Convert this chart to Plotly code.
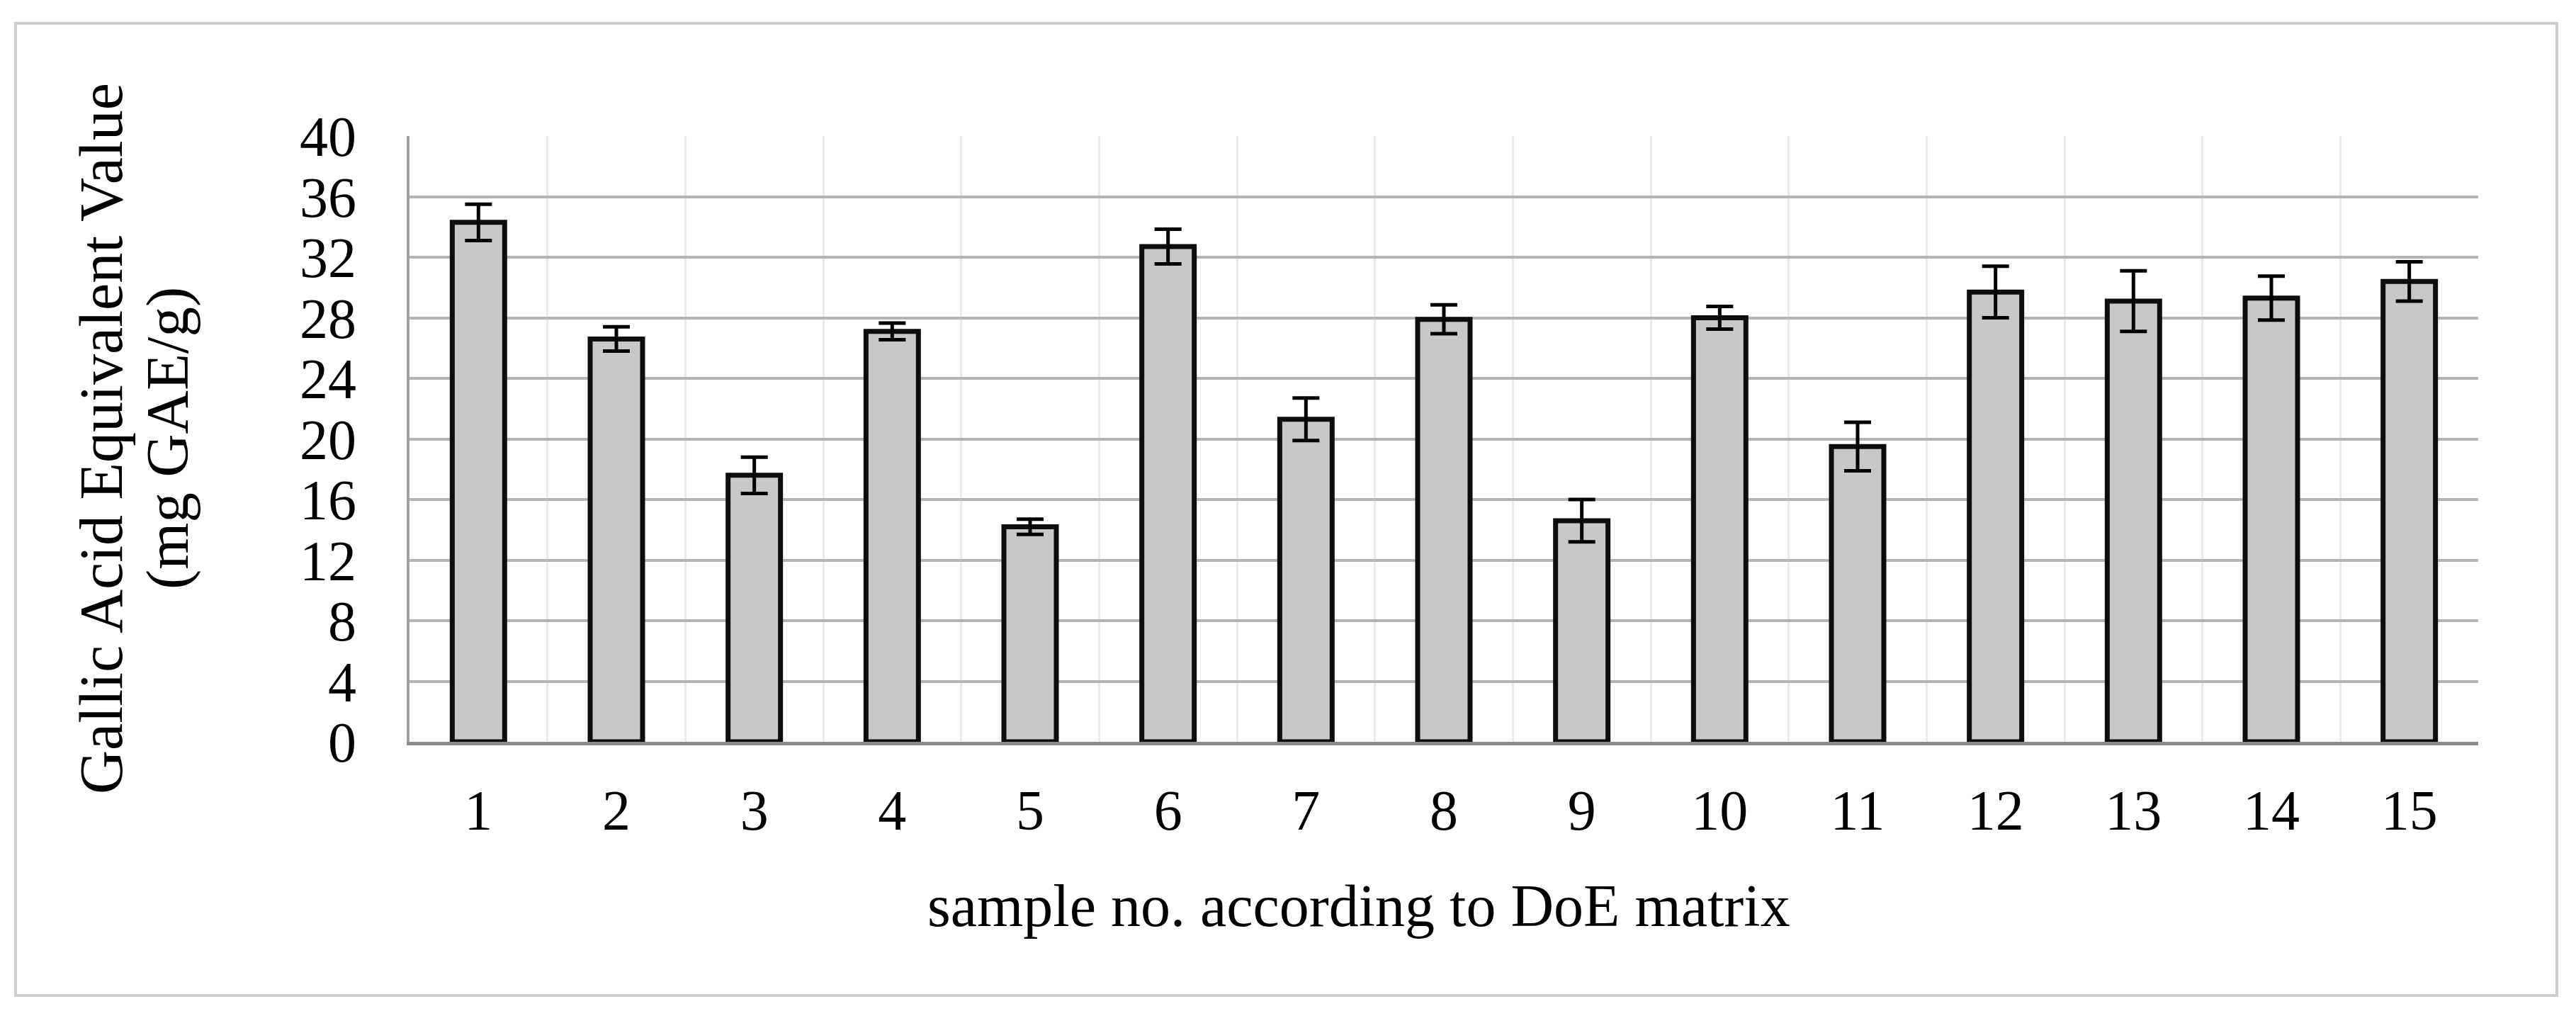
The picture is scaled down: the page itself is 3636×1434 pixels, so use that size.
import plotly.graph_objects as go

# ---- data ----
samples = list(range(1, 16))
tick_labels = [str(s) for s in samples]
gae_mean = [34.3, 26.6, 17.6, 27.1, 14.2, 32.7, 21.3, 27.9, 14.6, 28.0, 19.5, 29.7, 29.1, 29.3, 30.4]
gae_err = [1.2, 0.8, 1.2, 0.55, 0.5, 1.15, 1.4, 0.95, 1.4, 0.75, 1.6, 1.7, 2.0, 1.45, 1.3]
y_ticks = [0, 4, 8, 12, 16, 20, 24, 28, 32, 36, 40]

x_title = "sample no. according to DoE matrix"
y_title_1 = "Gallic Acid Equivalent Value"
y_title_2 = "(mg GAE/g)"

# ---- geometry (pixels) ----
W, H = 3636, 1434
PL, PR, PT, PB = 578, 3498, 192, 1047
pw, ph = PR - PL, PB - PT

def px(x):
    return (x - PL) / pw

def py(y):
    return (PB - y) / ph

FONT = "Liberation Serif, Times New Roman, serif"

boundaries = [s + 0.5 for s in samples]

fig = go.Figure()
fig.add_trace(go.Bar(
    x=samples,
    y=gae_mean,
    width=0.38,
    marker=dict(color="#c8c8c8", line=dict(color="#0d0d0d", width=7)),
    error_y=dict(type="data", array=gae_err, visible=True,
                 color="#000000", thickness=5, width=19),
))

fig.update_layout(
    width=W, height=H, autosize=False,
    margin=dict(l=PL, r=W - PR, t=PT, b=H - PB, pad=0),
    paper_bgcolor="white", plot_bgcolor="white",
    showlegend=False,
    font=dict(family=FONT, color="#000000", size=80),
)

fig.update_xaxes(
    range=[0.5, 15.5],
    tickvals=samples, ticktext=tick_labels,
    showgrid=False, ticks="", zeroline=False,
    showline=True, linecolor="#8c8c8c", linewidth=5,
    tickfont=dict(family=FONT, size=80, color="#000000"),
    ticklabelstandoff=23,
    minor=dict(tickvals=boundaries, showgrid=True, gridcolor="#ebebeb", gridwidth=3, ticks=""),
)

fig.update_yaxes(
    range=[0, 40],
    tickvals=y_ticks,
    showgrid=True, gridcolor="#b4b4b4", gridwidth=4,
    zeroline=False, ticks="",
    showline=True, linecolor="#a0a0a0", linewidth=4,
    tickfont=dict(family=FONT, size=80, color="#000000"),
    ticklabelstandoff=55,
)

# axis titles
fig.add_annotation(x=px(1918), y=py(1278), xref="paper", yref="paper",
                   text=x_title, showarrow=False, xanchor="center", yanchor="middle",
                   font=dict(family=FONT, size=84, color="#000000"))
fig.add_annotation(x=px(143), y=py(619), xref="paper", yref="paper",
                   text=y_title_1, showarrow=False, textangle=-90,
                   xanchor="center", yanchor="middle",
                   font=dict(family=FONT, size=86, color="#000000"))
fig.add_annotation(x=px(236), y=py(619), xref="paper", yref="paper",
                   text=y_title_2, showarrow=False, textangle=-90,
                   xanchor="center", yanchor="middle",
                   font=dict(family=FONT, size=85, color="#000000"))

# chart-area frame
fig.add_shape(type="rect", xref="paper", yref="paper",
              x0=px(22), x1=px(3609), y0=py(1405), y1=py(33),
              line=dict(color="#cccccc", width=4), layer="below")

fig.write_html("out.html", config={"displayModeBar": False},
               post_script="document.body.style.margin='0';document.body.style.overflow='hidden';")
